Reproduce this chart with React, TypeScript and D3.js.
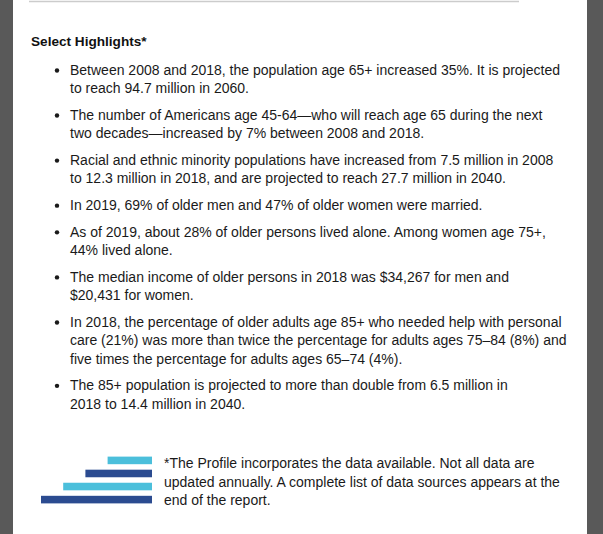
import React, { useEffect, useRef } from 'react';
import * as d3 from 'd3';

const heading = 'Select Highlights*';

const highlights: string[][] = [
  ['Between 2008 and 2018, the population age 65+ increased 35%. It is projected', 'to reach 94.7 million in 2060.'],
  ['The number of Americans age 45-64\u2014who will reach age 65 during the next', 'two decades\u2014increased by 7% between 2008 and 2018.'],
  ['Racial and ethnic minority populations have increased from 7.5 million in 2008', 'to 12.3 million in 2018, and are projected to reach 27.7 million in 2040.'],
  ['In 2019, 69% of older men and 47% of older women were married.'],
  ['As of 2019, about 28% of older persons lived alone. Among women age 75+,', '44% lived alone.'],
  ['The median income of older persons in 2018 was $34,267 for men and', '$20,431 for women.'],
  ['In 2018, the percentage of older adults age 85+ who needed help with personal', 'care (21%) was more than twice the percentage for adults ages 75\u201384 (8%) and', 'five times the percentage for adults ages 65\u201374 (4%).'],
  ['The 85+ population is projected to more than double from 6.5 million in', '2018 to 14.4 million in 2040.'],
];

const footnote = [
  '*The Profile incorporates the data available. Not all data are',
  'updated annually. A complete list of data sources appears at the',
  'end of the report.',
];

// decorative bars next to the footnote
const barValues = [2, 3, 4, 5];
const barColors = ['#4bbfdb', '#2b4b90', '#4bbfdb', '#2b4b90'];

const W = 603;
const H = 534;
const font = "'Liberation Sans', Arial, sans-serif";

const App = () => {
  const ref = useRef<SVGSVGElement>(null);

  useEffect(() => {
    const svg = d3.select(ref.current);
    svg.selectAll('*').remove();

    // page background and side bands
    svg.append('rect').attr('width', W).attr('height', H).attr('fill', '#fff');
    svg.append('rect').attr('x', 0).attr('width', 13).attr('height', H).attr('fill', '#595959');
    svg.append('rect').attr('x', 587).attr('width', W - 587).attr('height', H).attr('fill', '#595959');

    svg.append('line')
      .attr('x1', 29).attr('x2', 519)
      .attr('y1', 1.5).attr('y2', 1.5)
      .attr('stroke', '#cccccc').attr('stroke-width', 1.5);

    svg.append('text')
      .attr('x', 31).attr('y', 46)
      .attr('font-family', font)
      .attr('font-size', 13.6)
      .attr('font-weight', 'bold')
      .attr('fill', '#111')
      .text(heading);

    // bullet list
    const lineH = 18.35;
    const gap = 8.35;
    let y = 75;
    const list = svg.append('g')
      .attr('font-family', font)
      .attr('font-size', 14)
      .attr('fill', '#1a1a1a');

    highlights.forEach((lines) => {
      list.append('circle').attr('cx', 57).attr('cy', y - 4.5).attr('r', 2.2).attr('fill', '#1a1a1a');
      lines.forEach((line, i) => {
        list.append('text')
          .attr('x', 70)
          .attr('y', y + i * lineH)
          .text(line);
      });
      y += lines.length * lineH + gap;
    });

    // footnote bars
    const x = d3.scaleLinear().domain([0, 5]).range([0, 111]);
    const yb = d3.scaleBand<number>().domain(d3.range(barValues.length)).range([454, 506]).paddingInner(0.42).paddingOuter(0.2);

    svg.append('g')
      .selectAll('rect')
      .data(barValues)
      .enter()
      .append('rect')
      .attr('x', (d) => 152 - x(d))
      .attr('y', (_, i) => yb(i) as number)
      .attr('width', (d) => x(d))
      .attr('height', yb.bandwidth())
      .attr('fill', (_, i) => barColors[i]);

    svg.append('g')
      .attr('font-family', font)
      .attr('font-size', 14)
      .attr('fill', '#1a1a1a')
      .selectAll('text')
      .data(footnote)
      .enter()
      .append('text')
      .attr('x', 164)
      .attr('y', (_, i) => 468.3 + i * lineH)
      .text((d) => d);
  }, []);

  return (
    <div style={{ position: 'absolute', left: 0, top: 0 }}>
      <svg ref={ref} width={W} height={H} style={{ display: 'block' }} />
    </div>
  );
};

export default App;
